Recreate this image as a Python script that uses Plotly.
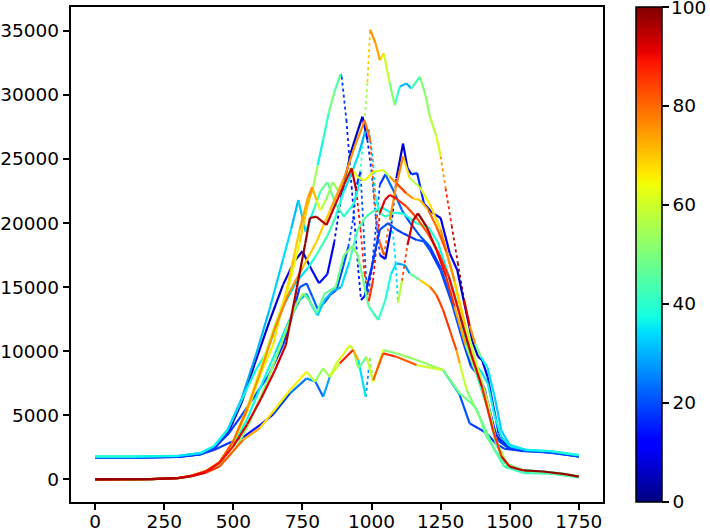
import numpy as np
import plotly.graph_objects as go

# ---------------- data ----------------
A_x = [0,150,300,380,430,480,530,580,630,680,710,735,762,790,815,840,870,900,935,955,970,985,995,1015,1030,1044,1065,1084,1102,1126,1144,1175,1195,1211,1235,1250,1268,1290,1312,1335,1355,1375,1395,1420,1445,1470,1500,1560,1650,1750]
A_y = [1800,1800,1850,2050,2600,3900,6300,9600,13200,17200,19600,21800,19300,21000,22500,23200,21500,20500,21500,23000,26500,31000,35100,34000,32700,33250,31000,29200,30640,30900,30500,31420,30000,28300,26740,25200,22700,19800,16900,14000,12000,10600,9600,8700,6500,3800,2700,2300,2200,1900]
A_c = [35,35,33,33,35,30,28,30,32,35,33,30,35,40,45,50,45,40,38,35,50,62,78,75,70,65,55,48,32,28,35,50,52,55,58,65,85,92,95,95,90,60,40,35,33,32,33,35,35,35]

B_x = [0,200,300,350,400,450,500,550,600,650,700,740,770,789,805,825,845,865,888,892,909,928,952,962,975,1000,1030,1060,1090,1114,1163,1188,1211,1250,1290,1330,1360,1390,1420,1450,1480,1550,1650,1750]
B_y = [0,20,110,300,650,1350,3000,5600,8800,12000,15000,18500,21500,22840,24500,26500,28600,30200,31630,31420,28040,22840,16340,14000,14300,16500,19500,20000,19500,19200,18680,18600,17900,16300,13800,10800,8800,8000,6000,3500,2700,2250,2150,1800]
B_c = [70,72,75,78,75,72,68,65,62,60,60,65,72,70,40,35,45,55,35,20,18,15,15,12,15,18,20,22,20,18,20,22,18,20,22,18,20,22,18,15,15,18,18,18]

C_x = [0,150,300,380,430,480,530,580,630,680,720,750,780,810,840,865,890,925,950,967,985,1000,1015,1030,1050,1070,1090,1114,1130,1145,1165,1190,1220,1250,1283,1310,1340,1365,1385,1400,1420,1440,1460,1490,1550,1650,1750]
C_y = [1700,1700,1750,1950,2400,3600,6000,9200,12300,15200,17000,17800,16500,15300,16000,18500,22000,25500,27200,28300,26500,24000,20500,17500,17200,19500,23500,26200,24300,23800,23900,21500,20800,20400,17640,16340,13300,10800,9600,9300,8000,5800,3600,2600,2250,2150,1800]
C_c = [15,15,12,10,8,6,5,5,6,8,8,6,10,15,12,10,8,6,5,5,12,20,25,15,10,8,6,5,10,18,20,12,8,10,12,8,6,5,5,8,12,15,15,15,12,12,12]

D_x = [0,200,300,350,400,450,500,550,600,650,700,750,800,850,900,940,975,995,1010,1030,1045,1066,1090,1114,1138,1175,1210,1250,1300,1340,1380,1420,1450,1490,1550,1620,1700,1750]
D_y = [0,20,110,300,650,1350,3000,5500,8500,11800,14500,16500,18500,21000,23500,26000,28000,26500,22000,18500,17500,20240,23000,25200,23500,22800,21500,19500,15500,12000,9000,6000,3000,1200,700,620,420,220]
D_c = [85,88,85,80,78,82,80,78,75,78,78,72,68,72,75,75,78,80,82,80,85,75,78,78,55,60,65,70,80,60,55,50,48,45,42,42,42,42]

E_x = [0,200,300,350,400,450,500,550,600,650,690,730,760,777,800,837,870,900,928,945,960,975,990,1005,1030,1048,1066,1090,1126,1160,1200,1240,1280,1320,1360,1400,1440,1470,1500,1550,1620,1700,1750]
E_y = [0,20,100,280,600,1300,2600,4300,6300,8500,10500,15000,18400,20400,20500,19850,21500,23000,24270,22500,19500,16000,13900,15500,20760,21800,22200,21900,21300,20500,19300,17800,15800,12800,9800,7200,3800,1800,1000,700,620,420,220]
E_c = [97,97,95,92,90,88,90,92,90,92,95,97,97,97,95,95,92,90,97,92,88,86,85,88,90,92,92,88,85,82,80,84,88,92,95,90,85,88,95,97,97,97,97]

F_x = [0,200,300,350,400,450,500,550,600,644,700,740,770,785,801,815,835,860,880,900,925,950,975,1006,1042,1066,1090,1126,1150,1175,1205,1235,1270,1300,1330,1360,1390,1420,1450,1490,1550,1620,1750]
F_y = [0,20,110,300,650,1300,2900,5300,8300,10500,15500,19500,22000,22800,21800,21000,21800,23200,22500,23000,24300,23600,23300,24000,24140,23620,23100,22320,21930,21800,21020,19720,17800,15500,12500,10000,8300,6000,3000,1200,700,600,200]
F_c = [65,62,60,62,65,68,65,62,65,65,68,70,75,78,65,60,55,50,55,60,65,62,62,70,52,63,88,80,72,66,75,85,80,70,62,60,58,55,55,55,52,50,50]

G_x = [0,150,300,380,430,480,530,580,622,680,730,770,800,840,870,900,930,955,975,990,1005,1015,1030,1050,1080,1114,1163,1205,1240,1270,1300,1340,1370,1395,1420,1445,1470,1500,1560,1650,1750]
G_y = [1780,1780,1830,2050,2600,3900,6200,8500,10000,13500,15500,16500,17500,19000,20500,22500,24000,25500,27000,27300,25000,22000,20800,20500,20800,20760,19980,19720,18500,16500,14500,11000,9000,8500,7500,5000,3300,2600,2300,2200,1900]
G_c = [38,38,36,35,38,36,35,38,36,34,33,36,40,45,40,36,35,33,30,28,32,38,40,42,38,38,40,40,38,36,38,40,36,34,36,38,36,35,36,38,38]

H_x = [0,200,300,350,400,450,480,512,560,620,680,730,753,780,801,830,870,900,930,950,970,990,1024,1050,1070,1090,1120,1138,1175,1211,1235,1259,1283,1307,1319,1344,1367,1400,1440,1480,1550,1650,1750]
H_y = [0,20,100,280,600,1200,1700,2550,4500,7500,11000,13800,14520,13800,12960,14500,15000,17500,18200,17500,15500,13500,12440,14000,16000,16860,16730,16080,15560,15030,14390,13220,11660,10100,9050,6975,5940,4500,2500,1000,500,450,150]
H_c = [45,42,40,45,48,50,52,50,52,52,53,55,52,48,45,47,48,50,52,50,48,45,42,40,38,32,25,30,62,78,82,85,88,80,65,52,50,48,45,45,42,42,42]

M_x = [0,150,300,380,430,480,530,580,630,680,716,740,765,785,805,830,850,873,897,916,933,947,960,970,980,988,1000,1015,1030,1050,1080,1110,1140,1175,1210,1250,1290,1330,1365,1385,1410,1435,1460,1500,1600,1750]
M_y = [1720,1720,1770,1970,2450,3500,5000,6600,8200,10500,13000,15000,15300,14300,13300,13800,14400,14780,16600,18150,20300,23000,24000,20000,15800,14600,16300,19500,23000,23800,22500,21000,20000,19000,18200,16500,14000,11000,9000,8200,7000,4500,3000,2400,2200,1800]
M_c = [20,20,18,18,20,18,18,20,20,18,18,20,22,20,24,22,20,18,20,22,20,18,20,22,22,20,18,18,18,18,25,20,20,22,18,20,22,18,15,15,18,18,18,18,18,18]

N_x = [0,200,300,350,400,450,500,550,600,650,700,740,765,785,805,830,860,890,920,950,980,1010,1040,1070,1085,1096,1110,1130,1150,1168,1199,1235,1270,1300,1340,1380,1420,1450,1490,1550,1620,1700,1750]
N_y = [0,20,100,280,600,1250,2700,4700,7300,9800,12300,14000,14500,13500,12800,14000,14700,15000,17000,19500,20500,21000,21200,20800,17500,13800,15500,18300,20200,20760,19720,17900,15800,13500,10500,8200,5500,2800,1100,700,620,400,200]
N_c = [40,38,38,40,42,40,38,36,38,36,34,32,30,32,35,32,28,30,40,45,45,42,40,35,33,35,80,88,95,97,97,92,88,85,60,45,40,40,38,38,38,38,38]

L1_x = [0,200,300,350,400,450,495,536,596,644,705,765,795,825,849,873,922,935,952,982,1006,1042,1090,1163,1259,1319,1362,1380,1416,1450,1490,1550,1620,1700,1750]
L1_y = [0,20,100,250,520,1000,2100,3100,4000,5300,6975,8403,7623,8668,8013,9058,10486,10100,8668,9573,7623,10096,9838,9315,8535,6717,5937,5500,3331,2200,1100,700,620,420,200]
L1_c = [95,97,95,92,90,80,85,75,70,65,65,65,55,50,60,58,65,55,50,45,75,52,52,55,50,48,50,50,48,45,45,42,42,42,42]

L2_x = [0,150,300,380,430,480,536,600,645,705,765,797,825,849,885,933,952,979,994,1006,1042,1090,1163,1259,1319,1355,1386,1416,1450,1480,1550,1650,1750]
L2_y = [1700,1700,1750,1950,2300,2800,3300,4300,5100,6717,7884,7620,6450,8013,9058,10096,9315,6450,9445,7754,9838,9575,8925,8535,6587,4375,4000,3600,2800,2400,2200,2100,1800]
L2_c = [22,22,20,18,18,18,15,12,15,20,30,25,18,40,80,97,50,20,32,75,88,85,78,40,22,18,18,18,18,18,20,20,20]

x_ticks = [0, 250, 500, 750, 1000, 1250, 1500, 1750]
y_ticks = [0, 5000, 10000, 15000, 20000, 25000, 30000, 35000]
c_ticks = [0, 20, 40, 60, 80, 100]
c_min, c_max = 0, 100

curves = [
    (A_x, A_y, A_c), (B_x, B_y, B_c), (C_x, C_y, C_c), (D_x, D_y, D_c),
    (E_x, E_y, E_c), (F_x, F_y, F_c), (G_x, G_y, G_c), (H_x, H_y, H_c),
    (M_x, M_y, M_c), (N_x, N_y, N_c), (L1_x, L1_y, L1_c), (L2_x, L2_y, L2_c),
]

# ---------------- matplotlib "jet" colormap ----------------
def jet_rgb(v):
    t = min(max((v - c_min) / (c_max - c_min), 0.0), 1.0)
    r = np.interp(t, [0, 0.35, 0.66, 0.89, 1], [0, 0, 1, 1, 0.5])
    g = np.interp(t, [0, 0.125, 0.375, 0.64, 0.91, 1], [0, 0, 1, 1, 0, 0])
    b = np.interp(t, [0, 0.11, 0.34, 0.65, 1], [0.5, 1, 1, 0, 0])
    return "rgb(%d,%d,%d)" % (round(r * 255), round(g * 255), round(b * 255))

stops = [0, 0.11, 0.125, 0.34, 0.35, 0.375, 0.64, 0.65, 0.66, 0.89, 0.91, 1.0]
jet_scale = [[s, jet_rgb(c_min + s * (c_max - c_min))] for s in stops]

NB = 50
STEEP = 125  # data units of y per unit of x: steeper segments look dotted
groups = {}
for xs, ys, cs in curves:
    for i in range(len(xs) - 1):
        x0, x1, y0, y1 = xs[i], xs[i + 1], ys[i], ys[i + 1]
        c = 0.5 * (cs[i] + cs[i + 1])
        slope = abs((y1 - y0) / (x1 - x0))
        dotted = slope > STEEP
        key = (int(round(c / 100 * (NB - 1))), dotted)
        g = groups.setdefault(key, ([], []))
        g[0].extend([x0, x1, None])
        g[1].extend([y0, y1, None])

fig = go.Figure()
for (b, dotted), (gx, gy) in sorted(groups.items(), key=lambda kv: (not kv[0][1], kv[0][0])):
    col = jet_rgb(b / (NB - 1) * 100)
    fig.add_trace(go.Scatter(
        x=gx, y=gy, mode="lines",
        line=dict(color=col, width=1.8 if dotted else 2.2, dash="dot" if dotted else "solid"),
        hoverinfo="skip", showlegend=False))

font = dict(family="DejaVu Sans", size=18.5, color="black")

# colour bar (ticks drawn by plotly; the top label is added as an annotation because
# plotly drops a label that sits exactly on the bar's top edge)
fig.add_trace(go.Scatter(
    x=[0], y=[0], mode="markers",
    marker=dict(size=0.1, color=[0], cmin=c_min, cmax=c_max, colorscale=jet_scale, showscale=True,
                colorbar=dict(x=(636 - 71) / 532, xanchor="left", xpad=0, ypad=0,
                              y=0.5, yanchor="middle", len=1, lenmode="fraction",
                              thickness=26, thicknessmode="pixels",
                              outlinewidth=1.5, outlinecolor="black",
                              tickmode="array", tickvals=c_ticks, ticks="outside",
                              ticklen=6.5, tickwidth=1.5, tickcolor="black", tickfont=font)),
    hoverinfo="skip", showlegend=False))

fig.add_annotation(x=(670 - 71) / 532, xref="paper", xanchor="left",
                   y=1, yref="paper", yanchor="middle",
                   text=str(c_ticks[-1]), showarrow=False, font=font, borderpad=0)

axis_common = dict(showline=True, mirror=True, linecolor="black", linewidth=1.5,
                   ticks="outside", ticklen=6.5, tickwidth=1.5, tickcolor="black",
                   showgrid=False, zeroline=False, tickfont=font)
fig.update_layout(
    width=710, height=530,
    margin=dict(l=71, r=107, t=7, b=28, autoexpand=False),
    plot_bgcolor="white", paper_bgcolor="white",
    xaxis=dict(range=[-87.5, 1837.5], tickmode="array", tickvals=x_ticks,
               ticklabelstandoff=-4, **axis_common),
    yaxis=dict(range=[-1760, 36860], tickmode="array", tickvals=y_ticks, tickformat="d", **axis_common),
)

fig.write_html("out.html", config={"displayModeBar": False},
               post_script="document.body.style.margin='0px';document.body.style.overflow='hidden';")
